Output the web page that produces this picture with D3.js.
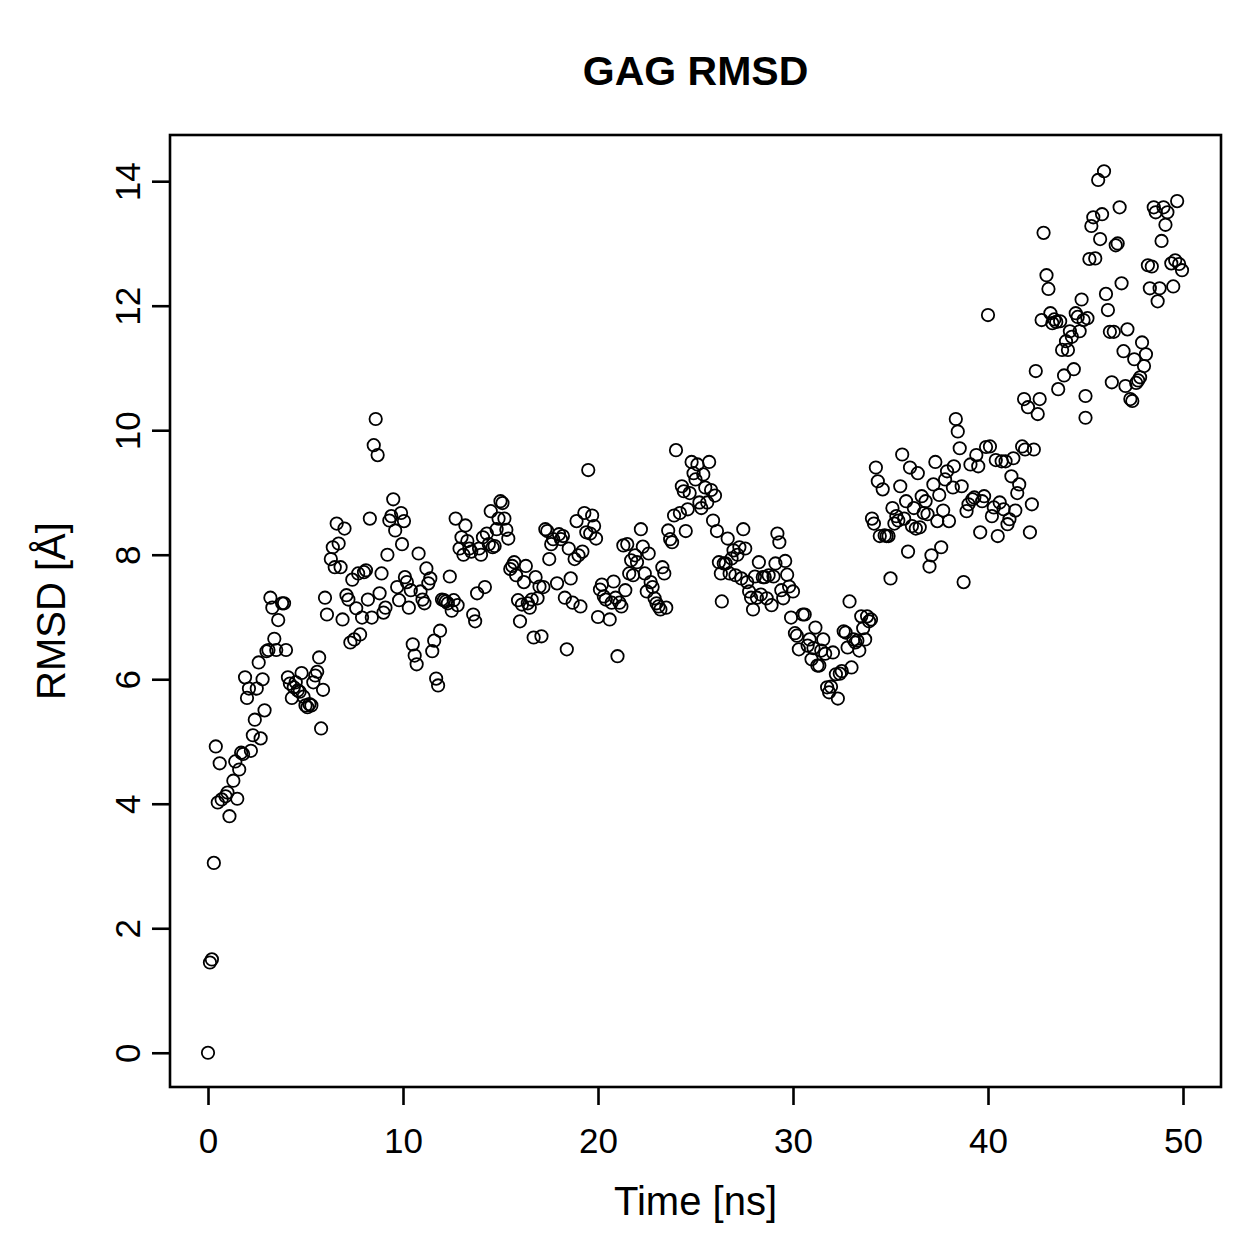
<!DOCTYPE html>
<html lang="en">
<head>
    <meta charset="UTF-8">
    <script src="https://d3js.org/d3.v7.min.js"></script>
    <style>
        body {
            margin: 0;
            padding: 0;
            background: #ffffff;
        }
        svg text {
            font-family: 'Liberation Sans', Arial, sans-serif;
            fill: #000000;
        }
    </style>
</head>
<body>
    <div id="chart"></div>
    <script>
        // Data: time [ns] and RMSD [Å]
        const time = [
            0.0, 0.1, 0.2, 0.3, 0.4, 0.5, 0.6, 0.7, 0.9, 1.0, 1.1, 1.3, 1.4, 1.5, 1.6, 1.7, 1.8, 1.9, 2.0, 2.1,
            2.2, 2.3, 2.4, 2.5, 2.6, 2.7, 2.8, 2.9, 3.0, 3.1, 3.2, 3.3, 3.4, 3.5, 3.6, 3.8, 3.9, 4.0, 4.1, 4.2,
            4.3, 4.4, 4.5, 4.6, 4.7, 4.8, 4.9,
            5.0, 5.1, 5.2, 5.3, 5.4, 5.5, 5.6, 5.7, 5.8, 5.9, 6.0, 6.1, 6.3, 6.4, 6.5, 6.6, 6.7, 6.8, 6.9, 7.0,
            7.1, 7.2, 7.3, 7.4, 7.5, 7.6, 7.7, 7.8, 7.9, 8.0, 8.1, 8.2, 8.3, 8.4, 8.5, 8.6, 8.7, 8.8, 8.9, 9.0,
            9.1, 9.2, 9.3, 9.4, 9.5, 9.6, 9.7, 9.8, 9.9, 9.95, 10.05,
            10.1, 10.2, 10.3, 10.4, 10.5, 10.6, 10.7, 10.8, 10.9, 11.0, 11.1, 11.2, 11.3, 11.4, 11.5, 11.6, 11.7,
            11.8, 11.9, 12.0, 12.1, 12.2, 12.3, 12.4, 12.5, 12.6, 12.7, 12.8, 12.9, 13.0, 13.1, 13.2, 13.3, 13.4,
            13.5, 13.6, 13.7, 13.8, 13.9, 14.0, 14.1, 14.2, 14.3, 14.4, 14.5, 14.6, 14.7, 14.8, 14.9, 15.0,
            15.1, 15.2, 15.3, 15.4, 15.5, 15.6, 15.7, 15.8, 15.9, 16.0, 16.1, 16.2, 16.3, 16.4, 16.5, 16.6, 16.7,
            16.8, 16.9, 17.0, 17.1, 17.2, 17.3, 17.4, 17.5, 17.6, 17.7, 17.9, 18.0, 18.1, 18.2, 18.3, 18.4, 18.5,
            18.6, 18.7, 18.8, 18.9, 19.0, 19.1, 19.2, 19.3, 19.4, 19.5, 19.6, 19.7, 19.8, 19.9, 20.0,
            20.1, 20.2, 20.3, 20.4, 20.6, 20.7, 20.8, 20.9, 21.0, 21.1, 21.2, 21.3, 21.4, 21.5, 21.6, 21.7, 21.8,
            21.9, 22.0, 22.2, 22.3, 22.4, 22.5, 22.6, 22.7, 22.8, 22.9, 23.0, 23.1, 23.2, 23.3, 23.4, 23.5, 23.6,
            23.7, 23.8, 23.9, 24.0, 24.2, 24.3, 24.4, 24.5, 24.6, 24.7, 24.8, 24.9, 25.0,
            25.1, 25.2, 25.3, 25.4, 25.5, 25.6, 25.7, 25.8, 25.9, 26.0, 26.1, 26.2, 26.3, 26.35, 26.45, 26.55,
            26.65, 26.75, 26.85, 26.95, 27.05, 27.15, 27.25, 27.35, 27.45, 27.55, 27.65, 27.75, 27.85, 27.95,
            28.05, 28.15, 28.25, 28.35, 28.45, 28.55, 28.65, 28.75, 28.9, 29.0, 29.1, 29.2, 29.3, 29.4, 29.5,
            29.6, 29.7, 29.8, 29.9, 30.0,
            30.1, 30.2, 30.3, 30.5, 30.6, 30.75, 30.85, 30.95, 31.05, 31.15, 31.25, 31.35, 31.45, 31.55, 31.65,
            31.75, 31.85, 31.95, 32.05, 32.2, 32.3, 32.4, 32.5, 32.6, 32.7, 32.8, 32.9, 33.0, 33.1, 33.2, 33.3,
            33.4, 33.5, 33.6, 33.7, 33.8, 33.9, 34.0, 34.05, 34.15, 34.25, 34.35, 34.45, 34.6, 34.7, 34.8, 34.9,
            35.0,
            35.1, 35.2, 35.3, 35.4, 35.5, 35.6, 35.7, 35.8, 35.9, 36.0, 36.1, 36.2, 36.3, 36.4, 36.5, 36.6, 36.7,
            36.8, 36.9, 37.0, 37.1, 37.2, 37.3, 37.4, 37.5, 37.6, 37.7, 37.8, 37.9, 38.0, 38.2, 38.25, 38.35,
            38.45, 38.55, 38.65, 38.75, 38.9, 39.0, 39.1, 39.2, 39.3, 39.4, 39.5, 39.6, 39.7, 39.8, 39.9, 40.0,
            40.1, 40.2, 40.3, 40.4, 40.5, 40.6, 40.7, 40.8, 40.9, 41.0, 41.1, 41.2, 41.3, 41.4, 41.5, 41.6, 41.75,
            41.85, 41.9, 42.05, 42.15, 42.25, 42.35, 42.45, 42.55, 42.65, 42.75, 42.85, 43.0, 43.1, 43.2, 43.3,
            43.4, 43.5, 43.6, 43.7, 43.8, 43.9, 44.0, 44.1, 44.2, 44.3, 44.4, 44.5, 44.6, 44.7, 44.8, 44.9,
            45.0, 45.0, 45.1, 45.2, 45.3, 45.4, 45.5, 45.65, 45.75, 45.85, 45.95, 46.05, 46.15, 46.25, 46.35,
            46.45, 46.55, 46.65, 46.75, 46.85, 46.95, 47.05, 47.15, 47.3, 47.4, 47.5, 47.6, 47.7, 47.8, 47.9,
            48.0, 48.1, 48.2, 48.3, 48.4, 48.5, 48.6, 48.7, 48.8, 48.9, 49.0, 49.1, 49.2, 49.4, 49.5, 49.6,
            49.7, 49.8, 49.95
        ];

        const rmsd = [
            0.0, 1.45, 1.5, 3.05, 4.92, 4.02, 4.65, 4.07, 4.12, 4.18, 3.8, 4.37, 4.68, 4.08, 4.55, 4.82, 4.8, 6.03, 5.7, 5.85,
            4.85, 5.1, 5.35, 5.85, 6.27, 5.05, 6.0, 5.5, 6.45, 6.47, 7.31, 7.15, 6.65, 6.47, 6.95, 7.22, 7.22, 6.47, 6.03, 5.93,
            5.7, 5.87, 5.95, 5.82, 5.8, 6.1, 5.72,
            5.58, 5.55, 5.6, 5.58, 5.95, 6.06, 6.12, 6.35, 5.21, 5.83, 7.31, 7.04, 7.93, 8.12, 7.8, 8.5, 8.18, 7.8, 6.96, 8.42,
            7.35, 7.28, 6.59, 7.6, 6.64, 7.14, 7.7, 6.72, 6.99, 7.72, 7.75, 7.28, 8.58, 6.99, 9.76, 10.18, 9.6, 7.38, 7.7, 7.07,
            7.15, 8.0, 8.55, 8.62, 8.89, 8.39, 7.48, 7.27, 8.67, 8.17, 8.54,
            7.64, 7.56, 7.15, 7.43, 6.56, 6.38, 6.24, 8.02, 7.41, 7.28, 7.22, 7.78, 7.54, 7.62, 6.45, 6.62, 6.01,
            5.9, 6.78, 7.28, 7.27, 7.25, 7.22, 7.65, 7.1, 7.27, 8.58, 7.19, 8.1, 8.28, 8.0, 8.47, 8.22, 8.1,
            8.05, 7.04, 6.93, 7.38, 8.1, 8.0, 8.28, 7.48, 8.34, 8.17, 8.7, 8.12, 8.14, 8.41, 8.58, 8.86,
            8.83, 8.58, 8.4, 8.26, 7.77, 7.82, 7.88, 7.67, 7.27, 6.93, 7.2, 7.56, 7.82, 7.22, 7.15, 7.28, 6.67,
            7.64, 7.3, 7.49, 6.69, 7.48, 8.41, 8.38, 7.93, 8.17, 8.25, 7.54, 8.33, 8.25, 8.3, 7.31, 6.48, 8.1,
            7.62, 7.23, 7.93, 8.54, 7.99, 7.17, 8.05, 8.67, 8.36, 9.36, 8.34, 8.63, 8.46, 8.26, 7.0,
            7.44, 7.52, 7.33, 7.28, 6.96, 7.23, 7.57, 7.31, 6.37, 7.23, 7.17, 8.15, 7.43, 8.17, 7.7, 7.91, 7.67,
            7.99, 7.88, 8.41, 8.13, 7.7, 7.41, 8.02, 7.56, 7.48, 7.3, 7.22, 7.17, 7.12, 7.8, 7.7, 7.15, 8.39,
            8.25, 8.2, 8.63, 9.68, 8.67, 9.1, 9.02, 8.38, 8.73, 8.99, 9.49, 9.31, 9.21,
            9.45, 8.84, 8.75, 9.29, 9.08, 8.84, 9.49, 9.04, 8.55, 8.95, 8.38, 7.88, 7.7, 7.25, 7.86, 7.86,
            8.26, 7.7, 7.94, 8.07, 7.67, 8.0, 8.12, 7.62, 8.41, 8.1, 7.56, 7.41, 7.31, 7.12,
            7.65, 7.31, 7.88, 7.36, 7.64, 7.64, 7.3, 7.67, 7.19, 7.65, 7.86, 8.34, 8.2, 7.43, 7.3,
            7.9, 7.68, 7.49, 6.99, 7.41,
            6.74, 6.7, 6.48, 7.04, 7.04, 6.54, 6.64, 6.32, 6.5, 6.83, 6.22, 6.22, 6.46, 6.64, 6.41,
            5.87, 5.79, 5.88, 6.43, 6.08, 5.69, 6.09, 6.13, 6.77, 6.75, 6.51, 7.25, 6.19, 6.64, 6.59, 6.62,
            6.46, 7.01, 6.82, 6.64, 7.01, 6.93, 6.96, 8.58, 8.5, 9.4, 9.18, 8.3, 9.05, 8.31, 8.3, 8.3,
            7.62,
            8.75, 8.5, 8.62, 8.55, 9.1, 9.61, 8.58, 8.86, 8.05, 9.4, 8.46, 8.75, 8.42, 9.31, 8.44, 8.94, 8.67,
            8.86, 8.65, 7.81, 7.99, 9.13, 9.49, 8.54, 8.96, 8.12, 8.71, 9.21, 9.34, 8.54, 9.08, 9.42, 10.18,
            9.98, 9.71, 9.1, 7.56, 8.7, 8.81, 9.45, 8.89, 8.92, 9.6, 9.42, 8.36, 8.86, 8.94, 9.73, 11.85,
            9.74, 8.62, 8.76, 9.52, 8.3, 8.84, 9.5, 8.73, 9.5, 8.49, 8.57, 9.26, 9.55, 8.71, 8.99, 9.13, 9.74,
            10.5, 9.69, 10.37, 8.36, 8.81, 9.69, 10.95, 10.26, 10.5, 11.77, 13.17, 12.49, 12.27, 11.88, 11.72,
            11.78, 11.74, 10.66, 11.75, 11.29, 10.88, 11.43, 11.29, 11.59, 11.5, 10.98, 11.88, 11.82, 11.59, 12.1, 11.77,
            10.55, 10.2, 11.8, 12.75, 13.28, 13.42, 12.76, 14.02, 13.07, 13.47, 14.16, 12.19, 11.93, 11.58, 10.77,
            11.58, 12.97, 13.0, 13.58, 12.36, 11.27, 10.71, 11.62, 10.5, 10.47, 11.14, 10.76, 10.8, 10.85, 11.41,
            11.03, 11.22, 12.65, 12.28, 12.63, 13.58, 13.5, 12.07, 12.28, 13.04, 13.58, 13.3, 13.5, 12.68, 12.31, 12.73,
            13.68, 12.67, 12.57
        ];

        const xTicks = [0, 10, 20, 30, 40, 50];
        const yTicks = [0, 2, 4, 6, 8, 10, 12, 14];

        const width = 1259;
        const height = 1259;

        // plot region (R style box)
        const box = {left: 170, right: 1221, top: 135, bottom: 1087};

        const svg = d3.select("#chart").append("svg")
            .attr("width", width)
            .attr("height", height);

        // R extends the data range by 4% on each side
        const x = d3.scaleLinear()
            .domain([-2, 52])
            .range([box.left - 1, box.right + 1]);

        const y = d3.scaleLinear()
            .domain([-0.566, 14.726])
            .range([box.bottom + 1, box.top + 1]);

        const points = time.map((t, i) => ({t: t, v: rmsd[i]}));

        svg.append("g")
            .selectAll("circle")
            .data(points)
            .enter().append("circle")
            .attr("cx", d => x(d.t))
            .attr("cy", d => y(d.v))
            .attr("r", 6.2)
            .attr("fill", "none")
            .attr("stroke", "#000")
            .attr("stroke-width", 1.8);

        // frame
        svg.append("rect")
            .attr("x", box.left)
            .attr("y", box.top)
            .attr("width", box.right - box.left)
            .attr("height", box.bottom - box.top)
            .attr("fill", "none")
            .attr("stroke", "#000")
            .attr("stroke-width", 2.6);

        // x axis
        const xAxis = svg.append("g")
            .attr("transform", `translate(0,${box.bottom})`)
            .call(d3.axisBottom(x).tickValues(xTicks).tickSize(18).tickPadding(0).tickFormat(d3.format("d")));
        xAxis.select(".domain").remove();
        xAxis.selectAll("line").attr("stroke-width", 2.6);
        xAxis.selectAll("text")
            .attr("y", 66)
            .attr("dy", null)
            .style("font-size", "35px")
            .style("font-family", "'Liberation Sans', Arial, sans-serif")
            .attr("fill", "#000");

        // y axis
        const yAxis = svg.append("g")
            .attr("transform", `translate(${box.left},0)`)
            .call(d3.axisLeft(y).tickValues(yTicks).tickSize(18).tickFormat(d3.format("d")));
        yAxis.select(".domain").remove();
        yAxis.selectAll("line").attr("stroke-width", 2.6);
        yAxis.selectAll("text")
            .attr("x", null)
            .attr("dy", null)
            .attr("text-anchor", "middle")
            .attr("transform", "translate(-30,0) rotate(-90)")
            .style("font-size", "35px")
            .style("font-family", "'Liberation Sans', Arial, sans-serif")
            .attr("fill", "#000");

        // labels
        svg.append("text")
            .attr("x", (box.left + box.right) / 2)
            .attr("y", 85)
            .attr("text-anchor", "middle")
            .style("font-size", "41px")
            .style("font-weight", "bold")
            .text("GAG RMSD");

        svg.append("text")
            .attr("x", (box.left + box.right) / 2)
            .attr("y", 1215)
            .attr("text-anchor", "middle")
            .style("font-size", "40px")
            .text("Time [ns]");

        svg.append("text")
            .attr("transform", `translate(65,${(box.top + box.bottom) / 2}) rotate(-90)`)
            .attr("text-anchor", "middle")
            .style("font-size", "40px")
            .text("RMSD [Å]");
    </script>
</body>
</html>
